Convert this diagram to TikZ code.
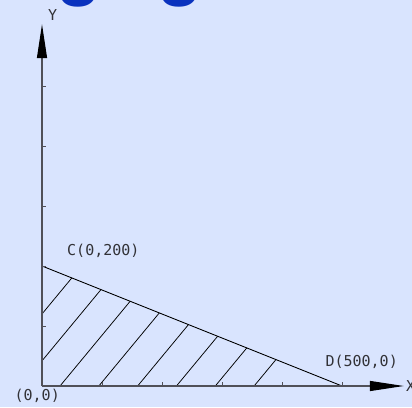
\documentclass[tikz,border=0pt]{standalone}
\usepackage{fontspec}
\newfontfamily\cadfont{DejaVu Sans Mono}
\newfontfamily\headfont{Liberation Sans}
\usetikzlibrary{arrows.meta, positioning}
\definecolor{bgblue}{RGB}{217,228,254}
\definecolor{axisgray}{RGB}{80,80,88}
\definecolor{labelgray}{RGB}{50,50,55}
\definecolor{headblue}{RGB}{10,50,190}

\begin{document}
\begin{tikzpicture}[
      x=1pt, y=1pt,
      axis/.style={draw=axisgray, line width=1.2pt},
      axistick/.style={draw=axisgray, line width=0.9pt},
      hatch/.style={draw=black, line width=0.75pt},
      edge/.style={draw=black, line width=0.9pt},
      bigarrow/.style={-{Triangle[length=34pt, width=10pt, black]}},
      lbl/.style={font=\cadfont\fontsize{15}{15}\selectfont, text=labelgray, inner sep=0pt},
      head/.style={font=\headfont\bfseries\fontsize{74}{74}\selectfont, text=headblue, inner sep=0pt, anchor=base west}
    ]
      \fill[bgblue] (0,0) rectangle (412,407);
      \useasboundingbox (0,0) rectangle (412,407);

      % cut-off heading
      \node[head] (g1) at (56,415) {g};
      \node[head] (g2) at (157,415) {g};

      \begin{scope}[shift={(42,21)}, x=0.6pt, y=0.6pt]
        \coordinate (O) at (0,0);
        \coordinate (C) at (0,200);
        \coordinate (D) at (500,0);
        \coordinate (ytip) at (0,603);
        \coordinate (xtip) at (603,0);

        % hatching
        \begin{scope}
          \clip (O) -- (C) -- (D) -- cycle;
          \foreach \i in {-2,...,5}
            \draw[hatch] (30+64.7*\i,0) -- ++(250,302);
        \end{scope}
        \draw[edge] (C) -- (D);

        % axes
        \draw[axis, bigarrow] (O) -- (ytip);
        \draw[axis, bigarrow] (O) -- (xtip);
        \foreach \t in {100,200,...,500} {
          \draw[axistick] (0,\t) -- ++(7,0);
          \draw[axistick] (\t,0) -- ++(0,7);
        }

        \node[lbl, above right=3pt and 6pt of ytip] (ylabel) {Y};
        \node[lbl, right=2pt of xtip] (xlabel) {X};
        \node[lbl, above right=8pt and 25pt of C] (clabel) {C(0,200)};
        \node[lbl, above left=17pt and -56pt of D] (dlabel) {D(500,0)};
        \node[lbl, below left=3pt and -18pt of O] (olabel) {(0,0)};
      \end{scope}
    \end{tikzpicture}
\end{document}
